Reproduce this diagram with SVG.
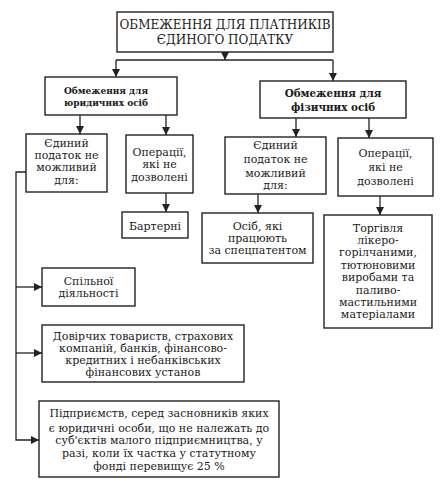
<svg xmlns="http://www.w3.org/2000/svg" width="447" height="492" viewBox="0 0 447 492">
<style>
.box{fill:#fff;stroke:#222;stroke-width:1.4}
.t{font-family:"DejaVu Serif",serif;font-size:11px;fill:#1a1a1a;text-anchor:middle}
.h{font-family:"DejaVu Serif Condensed","DejaVu Serif",serif;font-size:10px;font-weight:bold;fill:#1a1a1a;text-anchor:middle}
.h2{font-family:"DejaVu Serif Condensed","DejaVu Serif",serif;font-size:11.5px;font-weight:bold;fill:#1a1a1a;text-anchor:middle}
.ti{font-family:"DejaVu Serif",serif;font-size:12px;fill:#1a1a1a;text-anchor:middle}
.c{fill:none;stroke:#222;stroke-width:1.3}
</style>
<defs>
<marker id="ar" viewBox="0 0 8 8" refX="8" refY="4" markerWidth="8" markerHeight="8" markerUnits="userSpaceOnUse" orient="auto">
<path d="M0,0 L8,4 L0,8 Z" fill="#222"/>
</marker>
</defs>
<rect width="447" height="492" fill="#fff"/>
<g id="connectors">
<path class="c" d="M225,52 V60" marker-end="url(#ar)"/>
<path class="c" d="M116,60 H333"/>
<path class="c" d="M116,60 V77" marker-end="url(#ar)"/>
<path class="c" d="M333,60 V81" marker-end="url(#ar)"/>
<path class="c" d="M80,115 V134" marker-end="url(#ar)"/>
<path class="c" d="M166,115 V135" marker-end="url(#ar)"/>
<path class="c" d="M296,118 V137" marker-end="url(#ar)"/>
<path class="c" d="M369,118 V138" marker-end="url(#ar)"/>
<path class="c" d="M166,193 V212" marker-end="url(#ar)"/>
<path class="c" d="M258,194 V213" marker-end="url(#ar)"/>
<path class="c" d="M380,196 V215" marker-end="url(#ar)"/>
<path class="c" d="M26,172 H16 V440 H39" marker-end="url(#ar)"/>
<path class="c" d="M16,287 H42" marker-end="url(#ar)"/>
<path class="c" d="M16,353 H42" marker-end="url(#ar)"/>
</g>
<g id="title">
<rect class="box" x="117" y="12" width="216" height="40"/>
<text class="ti" x="225" y="29">ОБМЕЖЕННЯ ДЛЯ ПЛАТНИКІВ</text>
<text class="ti" x="225" y="44">ЄДИНОГО ПОДАТКУ</text>
</g>
<g id="legal">
<rect class="box" x="45" y="77" width="132" height="38"/>
<text class="h" x="106" y="94">Обмеження для</text>
<text class="h" x="106" y="106">юридичних осіб</text>
</g>
<g id="physical">
<rect class="box" x="260" y="81" width="146" height="37"/>
<text class="h2" x="333" y="97">Обмеження для</text>
<text class="h2" x="333" y="111">фізичних осіб</text>
</g>
<g id="legal-not-possible">
<rect class="box" x="26" y="134" width="81" height="58"/>
<text class="t" x="66.5" y="147">Єдиний</text>
<text class="t" x="66.5" y="159">податок не</text>
<text class="t" x="66.5" y="171">можливий</text>
<text class="t" x="66.5" y="184">для:</text>
</g>
<g id="legal-operations">
<rect class="box" x="126" y="135" width="67" height="58"/>
<text class="t" x="159.5" y="156">Операції,</text>
<text class="t" x="159.5" y="168">які не</text>
<text class="t" x="159.5" y="181">дозволені</text>
</g>
<g id="barter">
<rect class="box" x="122" y="212" width="66" height="26"/>
<text class="t" x="155" y="230">Бартерні</text>
</g>
<g id="phys-not-possible">
<rect class="box" x="225" y="137" width="101" height="57"/>
<text class="t" x="275.5" y="149">Єдиний</text>
<text class="t" x="275.5" y="163">податок не</text>
<text class="t" x="275.5" y="177">можливий</text>
<text class="t" x="275.5" y="189">для:</text>
</g>
<g id="phys-operations">
<rect class="box" x="338" y="138" width="95" height="58"/>
<text class="t" x="385.5" y="157">Операції,</text>
<text class="t" x="385.5" y="171">які не</text>
<text class="t" x="385.5" y="185">дозволені</text>
</g>
<g id="patent">
<rect class="box" x="202" y="213" width="111" height="50"/>
<text class="t" x="257.5" y="230">Осіб, які</text>
<text class="t" x="257.5" y="242">працюють</text>
<text class="t" x="257.5" y="254">за спецпатентом</text>
</g>
<g id="trade">
<rect class="box" x="324" y="215" width="108" height="113"/>
<text class="t" x="378" y="232">Торгівля</text>
<text class="t" x="378" y="244">лікеро-</text>
<text class="t" x="378" y="256">горілчаними,</text>
<text class="t" x="378" y="269">тютюновими</text>
<text class="t" x="378" y="281">виробами та</text>
<text class="t" x="378" y="294">паливо-</text>
<text class="t" x="378" y="306">мастильними</text>
<text class="t" x="378" y="318">матеріалами</text>
</g>
<g id="joint">
<rect class="box" x="42" y="268" width="93" height="38"/>
<text class="t" x="88.5" y="285">Спільної</text>
<text class="t" x="88.5" y="297">діяльності</text>
</g>
<g id="trust">
<rect class="box" x="42" y="325" width="202" height="57"/>
<text class="t" x="143" y="340">Довірчих товариств, страхових</text>
<text class="t" x="143" y="352">компаній, банків, фінансово-</text>
<text class="t" x="143" y="364">кредитних і небанківських</text>
<text class="t" x="143" y="376">фінансових установ</text>
</g>
<g id="enterprises">
<rect class="box" x="39" y="401" width="240" height="76"/>
<text class="t" x="159" y="417">Підприємств, серед засновників яких</text>
<text class="t" x="159" y="432">є юридичні особи, що не належать до</text>
<text class="t" x="159" y="444">суб'єктів малого підприємництва, у</text>
<text class="t" x="159" y="457">разі, коли їх частка у статутному</text>
<text class="t" x="159" y="470">фонді перевищує 25 %</text>
</g>
</svg>
